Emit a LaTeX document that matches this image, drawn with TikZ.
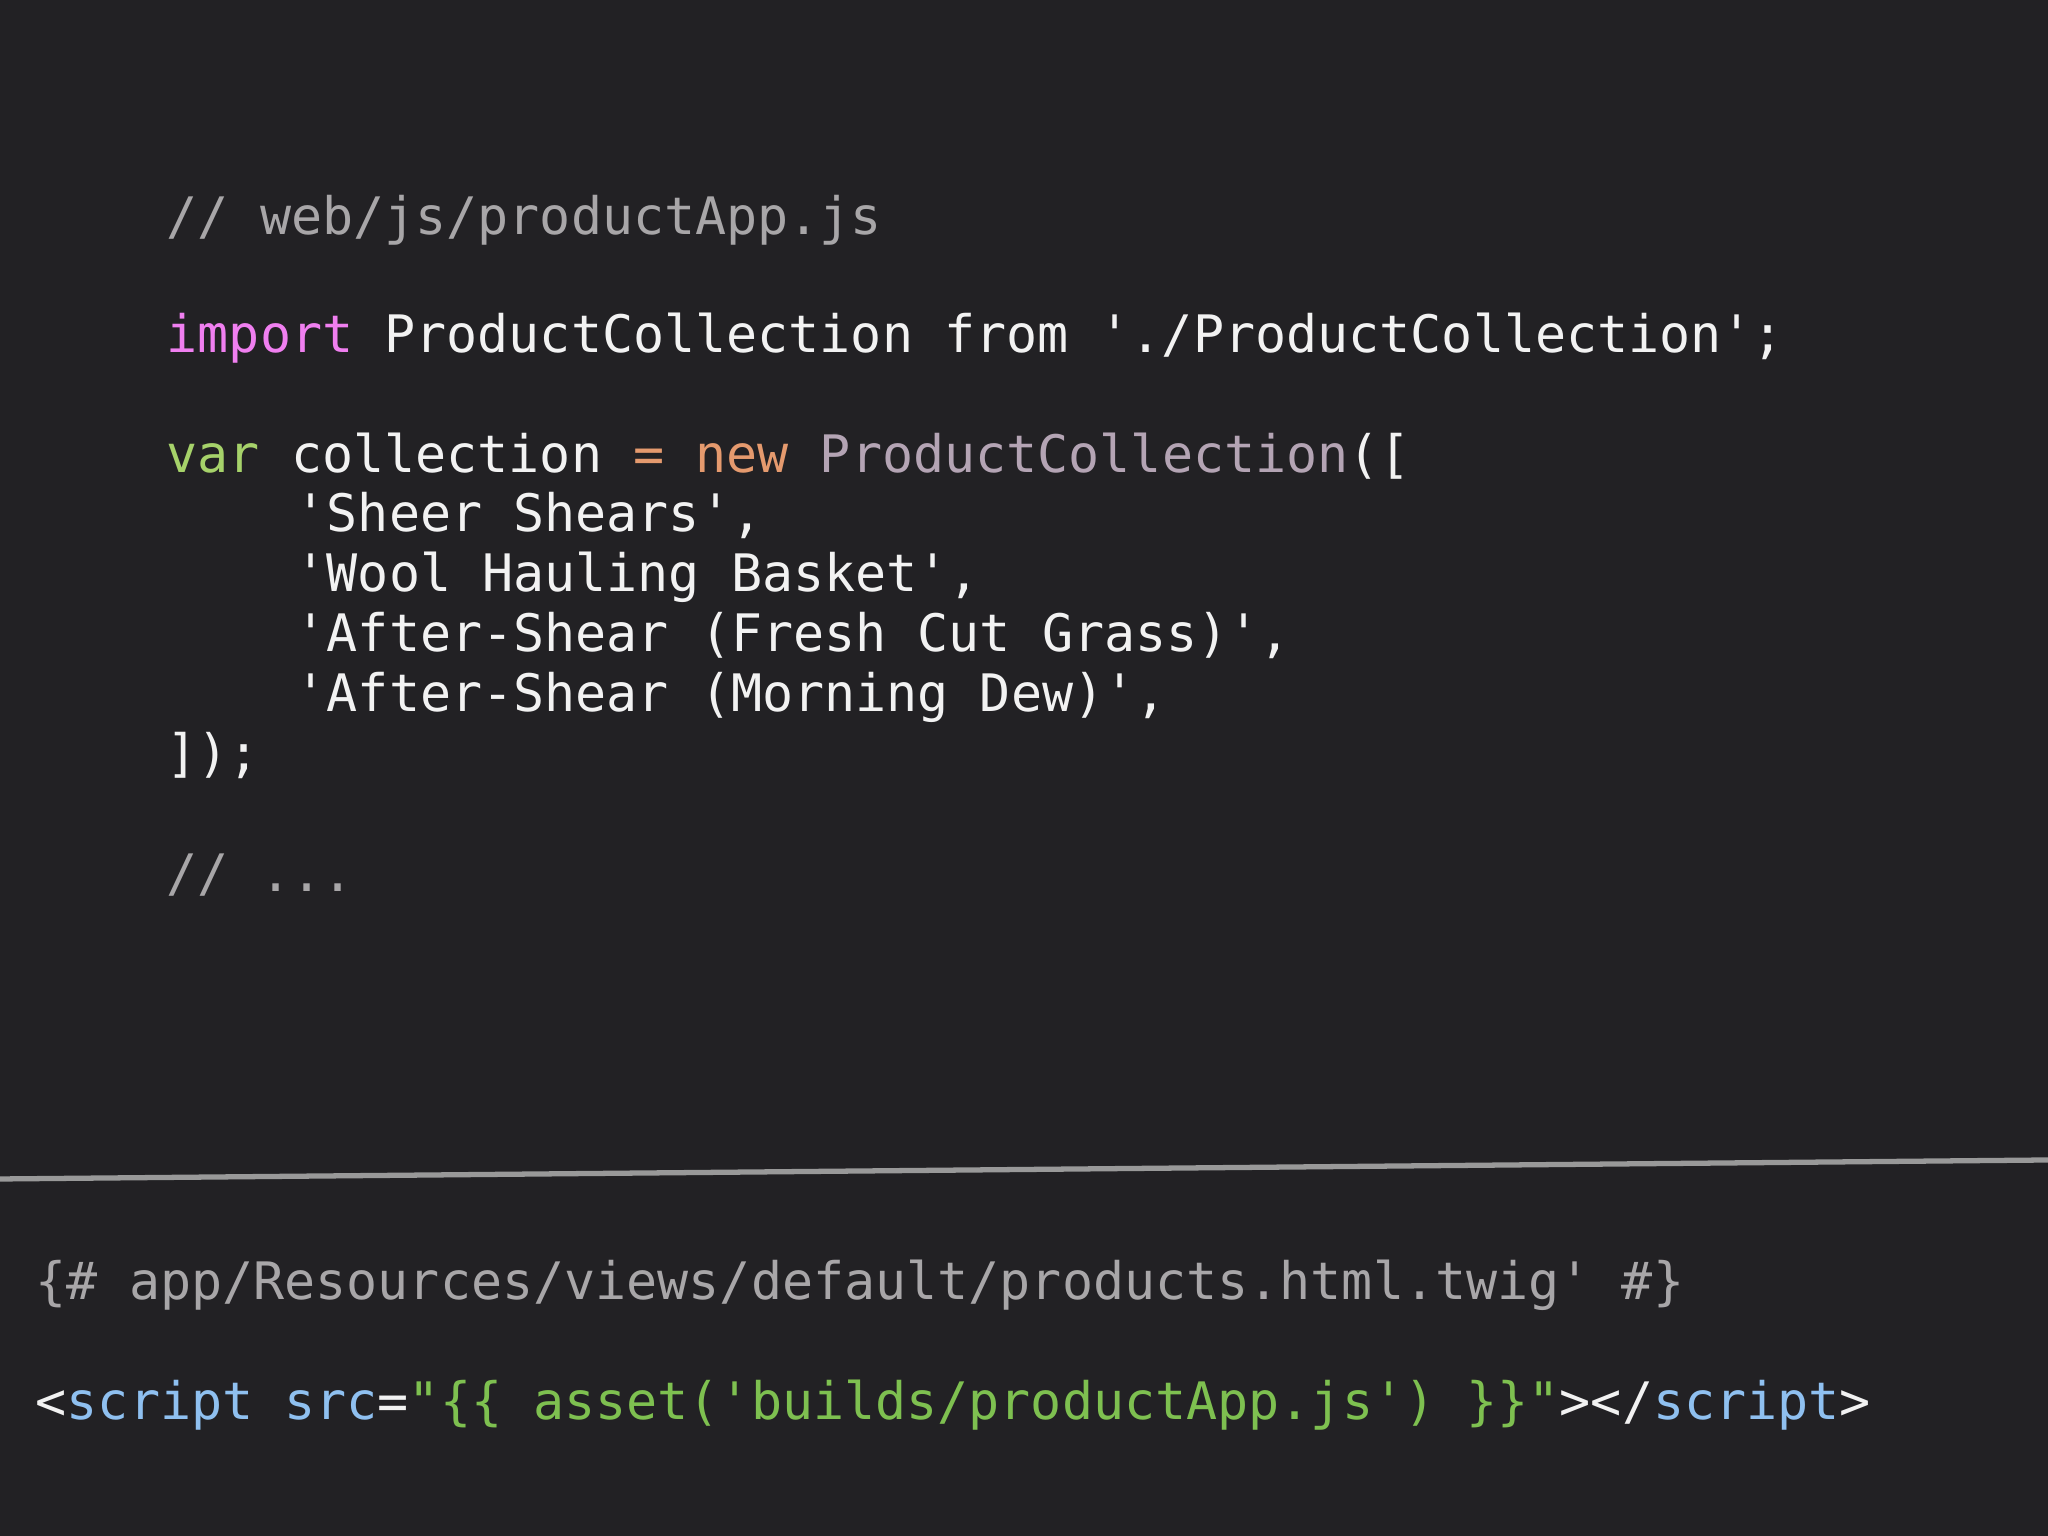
\documentclass[tikz,border=0pt]{standalone}
\usepackage{fontspec}
\setmonofont{DejaVu Sans Mono}
\definecolor{bg}{HTML}{222124}
\definecolor{cm}{HTML}{A8A6A8}
\definecolor{kw}{HTML}{F07FF0}
\definecolor{gr}{HTML}{A6D26A}
\definecolor{orn}{HTML}{E59A6E}
\definecolor{mv}{HTML}{B4A4B4}
\definecolor{tx}{HTML}{F2F2F2}
\definecolor{bl}{HTML}{8FC0F0}
\definecolor{sg}{HTML}{7EC050}
\tikzset{code/.style={anchor=base west,inner sep=0pt,text=tx,font=\ttfamily\fontsize{14.7}{18}\selectfont}}
\begin{document}
\begin{tikzpicture}[x=1cm,y=1cm]
\fill[bg] (0,0) rectangle (20.48,15.36);
\useasboundingbox (0,0) rectangle (20.48,15.36);
\node[code,text=cm] (l1) at (1.66,15.36-2.35) {// web/js/productApp.js};
\node[code] (l2) at (1.66,15.36-3.53) {\textcolor{kw}{import} ProductCollection from './ProductCollection';};
\node[code] (l3) at (1.66,15.36-4.73) {\textcolor{gr}{var} collection \textcolor{orn}{= new} \textcolor{mv}{ProductCollection}([};
\node[code] (l4) at (2.95,15.36-5.32) {'Sheer Shears',};
\node[code] (l5) at (2.95,15.36-5.92) {'Wool Hauling Basket',};
\node[code] (l6) at (2.95,15.36-6.52) {'After-Shear (Fresh Cut Grass)',};
\node[code] (l7) at (2.95,15.36-7.12) {'After-Shear (Morning Dew)',};
\node[code] (l8) at (1.66,15.36-7.72) {]);};
\node[code,text=cm] (l9) at (1.66,15.36-8.92) {// ...};
\draw[color=gray!80,line width=1.5pt] (0,15.36-11.79) -- (20.48,15.36-11.60);
\node[code,text=cm] (t1) at (0.35,15.36-13.00) {\{\# app/Resources/views/default/products.html.twig' \#\}};
\node[code] (t2) at (0.35,15.36-14.20) {<\textcolor{bl}{script src}=\textcolor{sg}{"\{\{ asset('builds/productApp.js') \}\}"}></\textcolor{bl}{script}>};
\end{tikzpicture}
\end{document}
